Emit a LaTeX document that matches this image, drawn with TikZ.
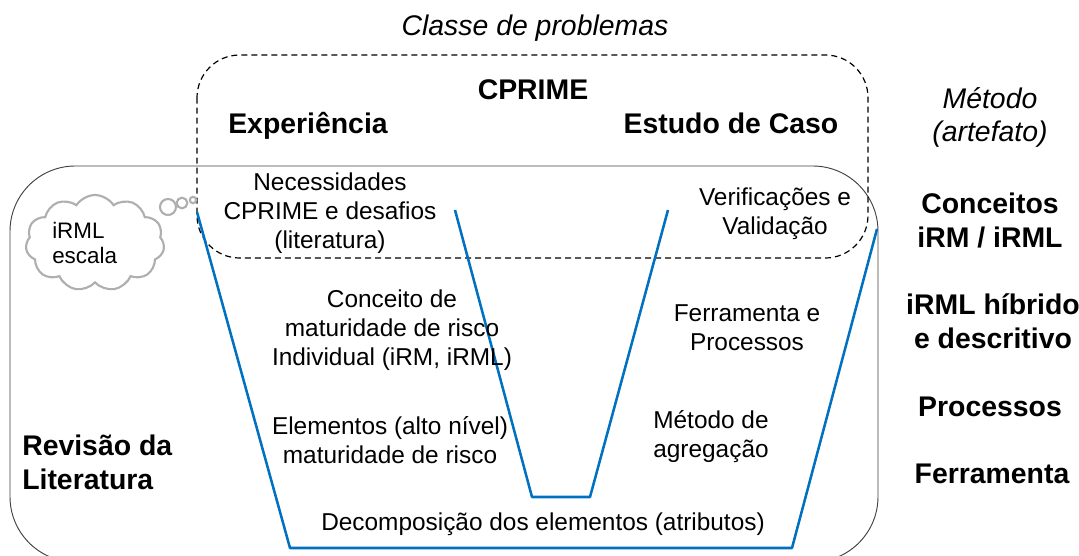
\documentclass[tikz,border=0pt]{standalone}
\usepackage{fontspec}
\setmainfont{Liberation Sans}
\usetikzlibrary{shapes.symbols}
\definecolor{vblue}{RGB}{0,112,192}
\definecolor{cloudgray}{RGB}{175,175,175}
\begin{document}
\begin{tikzpicture}[x=0.75pt,y=-0.75pt,
  txt/.style={font=\fontsize{18.3}{21.75}\selectfont, align=center, inner sep=0pt},
  ctxt/.style={font=\fontsize{16.8}{19}\selectfont, align=left, inner sep=0pt},
  btxt/.style={font=\bfseries\fontsize{21.3}{25.5}\selectfont, align=center, inner sep=0pt},
  itxt/.style={font=\itshape\fontsize{21.3}{24.75}\selectfont, align=center, inner sep=0pt},
  vline/.style={draw=vblue, line width=1.9pt, line join=round},
  outerbox/.style={draw=black!75, line width=0.7pt, rounded corners=49pt},
  dashbox/.style={draw=black, line width=0.9pt, dash pattern=on 4.5pt off 3pt, rounded corners=32pt},
  bubble/.style={draw=cloudgray, line width=1.6pt, fill=white}]
\useasboundingbox (0,0) rectangle (1079,556);
\clip (0,0) rectangle (1079,556);
% outer solid rounded box (bottom runs off the page)
\draw[outerbox] (10,166) rectangle (878,562);
% dashed problem class box
\draw[dashbox] (197,55) rectangle (868,258);
% blue V shapes
\draw[vline] (197,212) -- (290,548) -- (792,548) -- (877,229);
\draw[vline] (455,210) -- (532,497) -- (590,497) -- (668,210);
% thought cloud
\node[cloud, cloud puffs=11, cloud puff arc=115, aspect=1.5, draw=cloudgray, line width=1.6pt,
      minimum width=104pt, minimum height=72pt, inner sep=0pt] (cloud) at (95,243) {};
\node[ctxt, anchor=west] (cloudtext) at (52,243) {iRML\\escala};
\draw[bubble] (168,207) circle (6pt);
\draw[bubble] (182,203) circle (4pt);
\draw[bubble] (193,200) circle (2.4pt);
% top labels
\node[itxt] (classe) at (535,28) {Classe de problemas};
\node[btxt, anchor=base] (cprime) at (533,100) {CPRIME};
\node[btxt, anchor=base] (exper) at (308,134) {Experiência};
\node[btxt, anchor=base] (estudo) at (731,134) {Estudo de Caso};
% right column
\node[itxt] (metodo) at (990,117) {Método\\(artefato)};
\node[btxt] (conceitos) at (990,220) {Conceitos\\iRM / iRML};
\node[btxt] (hibrido) at (993,321) {iRML híbrido\\e descritivo};
\node[btxt] (processos) at (990,407) {Processos};
\node[btxt] (ferramenta) at (992,474) {Ferramenta};
\node[btxt, align=left, anchor=west] (revisao) at (22,462) {Revisão da\\Literatura};
% inner texts
\node[txt] (necess) at (330,213) {Necessidades\\CPRIME e desafios\\(literatura)};
\node[txt] (verif) at (775,214) {Verificações e\\Validação};
\node[txt] (conceito) at (392,330) {Conceito de\\maturidade de risco\\Individual (iRM, iRML)};
\node[txt] (ferrproc) at (747,328) {Ferramenta e\\Processos};
\node[txt] (elementos) at (390,440) {Elementos (alto nível)\\maturidade de risco};
\node[txt] (agreg) at (711,437) {Método de\\agregação};
\node[txt] (decomp) at (543,524) {Decomposição dos elementos (atributos)};
\end{tikzpicture}
\end{document}
